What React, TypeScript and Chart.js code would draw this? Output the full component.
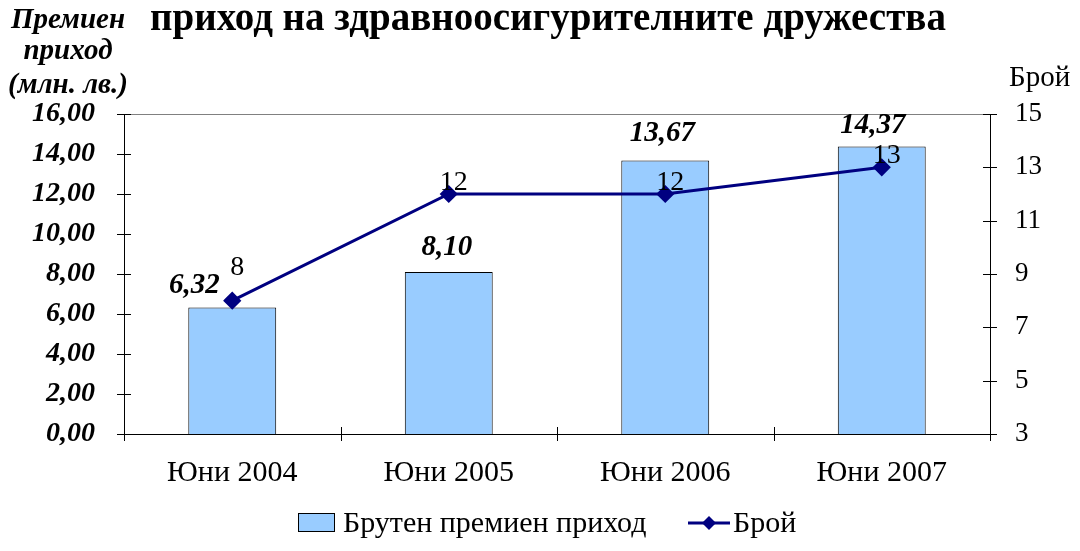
import React, { useEffect, useRef } from "react";
import { Chart, registerables } from "chart.js";

Chart.register(...registerables);

const categories = ["Юни 2004", "Юни 2005", "Юни 2006", "Юни 2007"];
const premiumValues = [6.32, 8.1, 13.67, 14.37];
const countValues = [8, 12, 12, 13];
const titleText = "приход на здравноосигурителните дружества";
const leftAxisTitle = ["Премиен", "приход", "(млн. лв.)"];
const rightAxisTitle = "Брой";
const barSeriesName = "Брутен премиен приход";
const lineSeriesName = "Брой";

const SERIF = '"Liberation Serif", "Times New Roman", serif';
const BAR_FILL = "#99CCFF";
const LINE_COLOR = "#000080";

const fmt = (v: number) => v.toFixed(2).replace(".", ",");

const barLabelDx = [-38, -2, -3, -9];
const barLabelDy = [-15, -17, -20, -14];

const overlayPlugin = {
  id: "overlay",
  afterDraw(chart: any) {
    const ctx = chart.ctx;
    const area = chart.chartArea;
    const yL = chart.scales.y;
    const yR = chart.scales.y1;
    ctx.save();
    // top border
    ctx.strokeStyle = "#808080";
    ctx.lineWidth = 1;
    ctx.beginPath();
    ctx.moveTo(area.left, area.top + 0.5);
    ctx.lineTo(area.right, area.top + 0.5);
    ctx.stroke();
    // ticks crossing axes
    ctx.strokeStyle = "#000";
    ctx.beginPath();
    yL.ticks.forEach((t: any) => {
      const py = Math.round(yL.getPixelForValue(t.value)) + 0.5;
      ctx.moveTo(area.left - 7, py);
      ctx.lineTo(area.left + 7, py);
    });
    yR.ticks.forEach((t: any) => {
      const py = Math.round(yR.getPixelForValue(t.value)) + 0.5;
      ctx.moveTo(area.right - 7, py);
      ctx.lineTo(area.right + 7, py);
    });
    const n = categories.length;
    for (let i = 0; i <= n; i++) {
      const px = Math.round(area.left + ((area.right - area.left) * i) / n) + 0.5;
      ctx.moveTo(px, area.bottom - 7);
      ctx.lineTo(px, area.bottom + 7);
    }
    ctx.stroke();

    // data labels
    const barMeta = chart.getDatasetMeta(0);
    const lineMeta = chart.getDatasetMeta(1);
    ctx.fillStyle = "#000";
    ctx.textAlign = "center";
    ctx.textBaseline = "alphabetic";
    ctx.font = `italic bold 29px ${SERIF}`;
    barMeta.data.forEach((el: any, i: number) => {
      ctx.fillText(fmt(premiumValues[i]), el.x + barLabelDx[i], el.y + barLabelDy[i]);
    });
    ctx.font = `28px ${SERIF}`;
    lineMeta.data.forEach((el: any, i: number) => {
      const dy = i === 0 ? -22 : 0;
      ctx.fillText(String(countValues[i]), el.x + 5, el.y - 4 + dy);
    });

    // main title
    ctx.font = `bold 39px ${SERIF}`;
    ctx.fillText(titleText, 548, 30);
    // left axis title
    ctx.font = `italic bold 29px ${SERIF}`;
    const ly = [28, 59, 93];
    leftAxisTitle.forEach((s, i) => ctx.fillText(s, 68, ly[i]));
    // right axis title
    ctx.font = `29px ${SERIF}`;
    ctx.textAlign = "left";
    ctx.fillText(rightAxisTitle, 1009, 86);

    // legend
    ctx.textBaseline = "middle";
    ctx.font = `30px ${SERIF}`;
    ctx.fillStyle = BAR_FILL;
    ctx.fillRect(298, 513, 37, 19);
    ctx.strokeStyle = "#000";
    ctx.lineWidth = 1;
    ctx.strokeRect(298.5, 513.5, 36, 18);
    ctx.fillStyle = "#000";
    ctx.fillText(barSeriesName, 343, 524);
    ctx.strokeStyle = LINE_COLOR;
    ctx.lineWidth = 3;
    ctx.beginPath();
    ctx.moveTo(688, 523);
    ctx.lineTo(730, 523);
    ctx.stroke();
    ctx.fillStyle = LINE_COLOR;
    ctx.beginPath();
    ctx.moveTo(709, 516);
    ctx.lineTo(716, 523);
    ctx.lineTo(709, 530);
    ctx.lineTo(702, 523);
    ctx.closePath();
    ctx.fill();
    ctx.fillStyle = "#000";
    ctx.fillText(lineSeriesName, 733, 524);
    ctx.restore();
  },
};

export default function App() {
  const ref = useRef<HTMLCanvasElement | null>(null);
  useEffect(() => {
    document.body.style.margin = "0";
    const canvas = ref.current;
    if (!canvas) return;
    const chart = new Chart(canvas, {
      type: "bar",
      data: {
        labels: categories,
        datasets: [
          {
            type: "bar",
            label: barSeriesName,
            data: premiumValues,
            backgroundColor: BAR_FILL,
            borderColor: "#000",
            borderWidth: 1,
            categoryPercentage: 1,
            barPercentage: 0.406,
            yAxisID: "y",
            order: 2,
          },
          {
            type: "line",
            label: lineSeriesName,
            data: countValues,
            borderColor: LINE_COLOR,
            backgroundColor: LINE_COLOR,
            borderWidth: 3,
            pointStyle: "rectRot",
            pointRadius: 7,
            pointBackgroundColor: LINE_COLOR,
            pointBorderColor: LINE_COLOR,
            tension: 0,
            yAxisID: "y1",
            order: 1,
          },
        ],
      } as any,
      options: {
        animation: false,
        responsive: false,
        layout: { padding: { top: 114, left: 0, right: 0, bottom: 0 } },
        plugins: { legend: { display: false }, tooltip: { enabled: false }, title: { display: false } },
        scales: {
          x: {
            grid: { display: false, drawTicks: false },
            border: { display: true, color: "#000", width: 1 },
            ticks: { color: "#000", font: { family: SERIF, size: 30 }, padding: 21 },
            afterFit: (s: any) => {
              s.height = 117;
            },
          },
          y: {
            position: "left",
            min: 0,
            max: 16,
            grid: { display: false, drawTicks: false },
            border: { display: true, color: "#000", width: 1 },
            ticks: {
              stepSize: 2,
              color: "#000",
              font: { family: SERIF, size: 28, style: "italic", weight: "bold" },
              padding: 29,
              callback: (v: any) => fmt(Number(v)),
            },
            afterFit: (s: any) => {
              s.width = 124;
            },
          },
          y1: {
            position: "right",
            min: 3,
            max: 15,
            grid: { display: false, drawTicks: false },
            border: { display: true, color: "#000", width: 1 },
            ticks: {
              stepSize: 2,
              color: "#000",
              font: { family: SERIF, size: 27 },
              padding: 25,
            },
            afterFit: (s: any) => {
              s.width = 90;
            },
          },
        },
      } as any,
      plugins: [overlayPlugin],
    });
    return () => chart.destroy();
  }, []);
  return (
    <div style={{ position: "relative", width: 1080, height: 551 }}>
      <canvas ref={ref} width={1080} height={551} />
    </div>
  );
}
